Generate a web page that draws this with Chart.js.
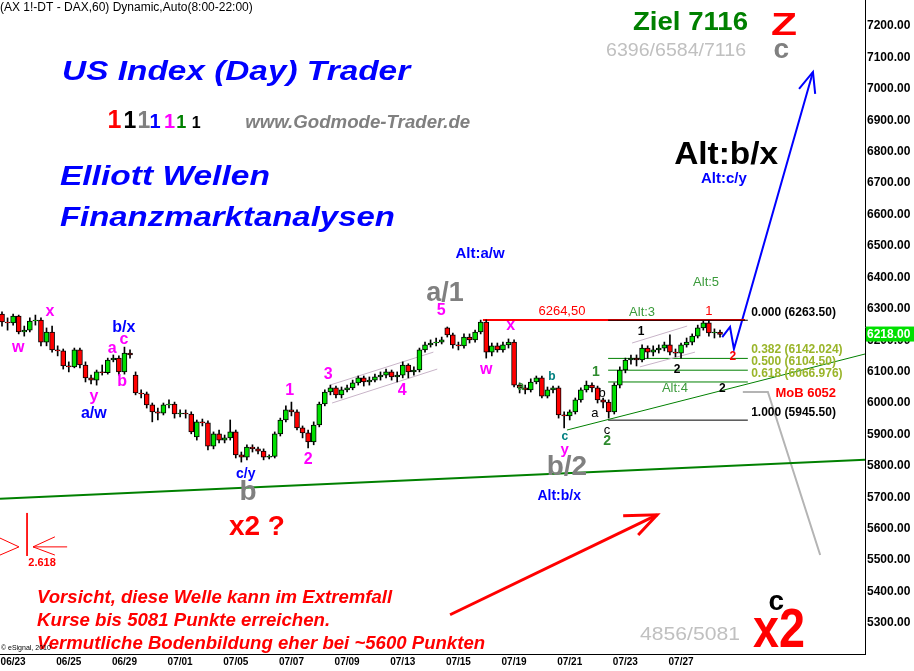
<!DOCTYPE html>
<html>
<head>
<meta charset="utf-8">
<script src="https://cdn.jsdelivr.net/npm/chart.js@4"></script>
<style>
  html, body { margin: 0; padding: 0; background: #fff; }
  canvas { display: block; }
</style>
</head>
<body>
<canvas id="dax" width="914" height="671"></canvas>
<script>
  // DAX 60 min, gelesen aus dem Chart (Kerzen zusammengefasst, ca. 5 pro Tag)
  var opens = [
    6283, 6258, 6255, 6277, 6226, 6232, 6261, 6264, 6194, 6226,
    6169, 6166, 6118, 6115, 6169, 6121, 6080, 6073, 6099, 6097,
    6137, 6143, 6099, 6159, 6089, 6032, 6029, 5994, 5972, 5968,
    5994, 5997, 5965, 5968, 5965, 5892, 5940, 5937, 5863, 5902,
    5882, 5889, 5908, 5835, 5828, 5860, 5854, 5847, 5828, 5830,
    5902, 5946, 5978, 5972, 5921, 5905, 5876, 5930, 5997, 6035,
    6048, 6026, 6042, 6048, 6064, 6080, 6067, 6073, 6083, 6089,
    6099, 6083, 6089, 6121, 6099, 6105, 6169, 6185, 6191, 6194,
    6239, 6217, 6185, 6182, 6210, 6201, 6226, 6258, 6162, 6182,
    6169, 6185, 6194, 6057, 6048, 6042, 6067, 6080, 6022, 6042,
    6048, 5962, 5959, 5972, 6010, 6042, 6057, 6048, 6010, 6003,
    5972, 6057, 6105, 6137, 6143, 6137, 6175, 6162, 6169, 6175,
    6185, 6162, 6159, 6185, 6194, 6213, 6239, 6255, 6223, 6226
  ];
  var highs = [
    6290, 6271, 6283, 6280, 6245, 6271, 6280, 6271, 6239, 6245,
    6182, 6172, 6131, 6175, 6175, 6131, 6089, 6105, 6121, 6143,
    6153, 6150, 6178, 6169, 6099, 6042, 6035, 6000, 5984, 6000,
    6010, 6003, 5978, 5978, 5972, 5946, 5949, 5943, 5908, 5914,
    5898, 5946, 5914, 5844, 5867, 5867, 5860, 5854, 5835, 5908,
    5952, 5991, 6003, 5978, 5927, 5914, 5940, 6003, 6042, 6057,
    6054, 6051, 6057, 6073, 6086, 6086, 6083, 6092, 6099, 6108,
    6105, 6099, 6131, 6125, 6115, 6175, 6194, 6201, 6207, 6210,
    6242, 6223, 6194, 6220, 6220, 6232, 6264, 6264.5, 6191, 6191,
    6194, 6204, 6201, 6064, 6057, 6077, 6086, 6086, 6051, 6054,
    6054, 5972, 5978, 6016, 6048, 6070, 6064, 6054, 6016, 6010,
    6064, 6115, 6143, 6153, 6153, 6185, 6182, 6182, 6185, 6194,
    6217, 6172, 6191, 6207, 6220, 6248, 6261, 6263.5, 6236, 6232
  ];
  var lows = [
    6245, 6232, 6248, 6220, 6213, 6226, 6248, 6182, 6182, 6162,
    6150, 6108, 6099, 6112, 6112, 6067, 6061, 6057, 6089, 6092,
    6131, 6089, 6092, 6143, 6026, 6016, 5984, 5940, 5946, 5962,
    5984, 5952, 5956, 5952, 5902, 5882, 5927, 5851, 5854, 5873,
    5873, 5882, 5825, 5812, 5819, 5844, 5838, 5819, 5822, 5825,
    5895, 5940, 5959, 5914, 5889, 5857, 5867, 5924, 5991, 6026,
    6016, 6016, 6035, 6042, 6057, 6054, 6057, 6067, 6073, 6080,
    6073, 6067, 6080, 6080, 6089, 6099, 6162, 6178, 6182, 6188,
    6210, 6175, 6169, 6175, 6191, 6194, 6220, 6143, 6150, 6162,
    6162, 6175, 6051, 6032, 6029, 6035, 6061, 6016, 6016, 6032,
    5952, 5921, 5946, 5965, 6003, 6035, 6035, 6000, 5984, 5952,
    5965, 6048, 6096, 6124, 6118, 6131, 6143, 6150, 6159, 6166,
    6153, 6147, 6143, 6178, 6185, 6207, 6232, 6213, 6207, 6210
  ];
  var closes = [
    6258, 6255, 6277, 6226, 6232, 6261, 6264, 6194, 6226, 6169,
    6166, 6118, 6115, 6169, 6121, 6080, 6073, 6099, 6097, 6137,
    6143, 6099, 6159, 6153, 6032, 6029, 5994, 5972, 5968, 5994,
    5997, 5965, 5968, 5965, 5908, 5940, 5937, 5863, 5902, 5882,
    5889, 5908, 5835, 5828, 5860, 5854, 5847, 5828, 5830, 5902,
    5946, 5978, 5972, 5921, 5905, 5876, 5930, 5997, 6035, 6048,
    6026, 6042, 6048, 6064, 6080, 6067, 6073, 6083, 6089, 6099,
    6083, 6089, 6121, 6099, 6105, 6169, 6185, 6191, 6194, 6201,
    6217, 6185, 6182, 6210, 6201, 6226, 6258, 6162, 6182, 6169,
    6185, 6194, 6057, 6048, 6042, 6067, 6080, 6022, 6042, 6048,
    5962, 5959, 5972, 6010, 6042, 6057, 6048, 6010, 6003, 5972,
    6057, 6105, 6137, 6143, 6137, 6175, 6162, 6169, 6175, 6185,
    6162, 6159, 6185, 6194, 6213, 6239, 6255, 6223, 6226, 6218
  ];

  // Datumsachse: Kerzen-Index, an dem der Handelstag beginnt
  var dayBars   = [2, 12, 22, 32, 42, 52, 62, 72, 82, 92, 102, 112, 122];
  var dayLabels = ["06/23", "06/25", "06/29", "07/01", "07/05", "07/07", "07/09",
                   "07/13", "07/15", "07/19", "07/21", "07/23", "07/27"];
  var priceTicks = [5300, 5400, 5500, 5600, 5700, 5800, 5900, 6000, 6100, 6200,
                    6300, 6400, 6500, 6600, 6700, 6800, 6900, 7000, 7100, 7200];

  // Fibonacci-Retracement 6263.50 -> 5945.50
  var fibLevels = [6263.5, 6142.024, 6104.5, 6066.976, 5945.5];

  var FONT = "'Liberation Sans', Arial, sans-serif";
  var UP = "#00e000", DOWN = "#ff0000";
  var MAG = "#ff00ff", BLUE = "#0000ff", GRAY = "#808080", LIGHT = "#c0c0c0";
  var ALTGREEN = "#3a9a3a", FIBTXT = "#9ab52a";

  /* ── Hilfslinien (Kerzen-Index, Kurs) ── */
  var guides = [
    { pts: [[-0.36, 5695], [155.05, 5819]], color: "#008000", w: 2 },
    { pts: [[101.5, 5914], [155.05, 6156]], color: "#008000", w: 1 },
    { pts: [[58.9, 6057], [77.5, 6162]], color: "#c8b4c8", w: 1 },
    { pts: [[59.3, 6000], [78.2, 6108]], color: "#c8b4c8", w: 1 },
    { pts: [[113.2, 6191], [123.1, 6245]], color: "#c8b4c8", w: 1 },
    { pts: [[114.6, 6115], [124.5, 6162]], color: "#c8b4c8", w: 1 },
    { pts: [[108.9, fibLevels[0]], [134.0, fibLevels[0]]], color: "#000000", w: 1 },
    { pts: [[108.9, fibLevels[1]], [134.0, fibLevels[1]]], color: "#008000", w: 1 },
    { pts: [[108.9, fibLevels[2]], [134.0, fibLevels[2]]], color: "#008000", w: 1 },
    { pts: [[108.9, fibLevels[3]], [134.0, fibLevels[3]]], color: "#008000", w: 1 },
    { pts: [[108.9, fibLevels[4]], [134.0, fibLevels[4]]], color: "#000000", w: 1 },
    { pts: [[86.4, 6264.5], [133.5, 6264.5]], color: "#ff0000", w: 2 },
    { pts: [[129.4, 6210], [130.8, 6242], [131.5, 6172], [145.7, 7054]], color: BLUE, w: 2 },
    { pts: [[143.2, 7000], [145.7, 7054], [146.1, 6984]], color: BLUE, w: 2 },
    { pts: [[133.1, 6035], [137.6, 6035], [147.0, 5516]], color: "#b4b4b4", w: 2 },
    { pts: [[80.5, 5326], [117.7, 5644]], color: "#ff0000", w: 3 },
    { pts: [[111.6, 5641], [117.7, 5644], [114.3, 5580]], color: "#ff0000", w: 3 },
    { pts: [[4.5, 5650], [4.5, 5513]], color: "#ff0000", w: 1 },
    { pts: [[-0.36, 5570], [3.05, 5542], [-0.36, 5516]], color: "#ff0000", w: 1 },
    { pts: [[9.5, 5574], [5.57, 5542], [9.5, 5516]], color: "#ff0000", w: 1 },
    { pts: [[5.57, 5542], [11.7, 5542]], color: "#ff0000", w: 1 }
  ];

  /* ── Beschriftungen: [Text, Kerzen-Index, Kurs, Farbe, Font, Ausrichtung, Breite] ── */
  var notes = [
    ["(AX 1!-DT - DAX,60) Dynamic,Auto(8:00-22:00)", -0.36, 7260, "#000", "12px", "left"],
    ["US Index (Day) Trader", 10.8, 7054, BLUE, "italic bold 28px", "left", 348],
    ["Elliott Wellen", 10.4, 6719, BLUE, "italic bold 28px", "left", 210],
    ["Finanzmarktanalysen", 10.4, 6589, BLUE, "italic bold 28px", "left", 335],
    ["www.Godmode-Trader.de", 43.7, 6891, GRAY, "italic bold 18px", "left", 225],
    ["1", 20.2, 6875, "#ff0000", "bold 25px", "center", null, "alphabetic"],
    ["1", 23.0, 6875, "#000000", "bold 23px", "center", null, "alphabetic"],
    ["1", 25.5, 6875, GRAY, "bold 23px", "center", null, "alphabetic"],
    ["1", 27.5, 6875, BLUE, "bold 20px", "center", null, "alphabetic"],
    ["1", 30.1, 6875, MAG, "bold 20px", "center", null, "alphabetic"],
    ["1", 32.2, 6875, "#008000", "bold 18px", "center", null, "alphabetic"],
    ["1", 34.9, 6875, "#000000", "bold 16px", "center", null, "alphabetic"],
    ["Ziel 7116", 123.7, 7210, "#008000", "bold 26px", "center", 115],
    ["Z", 140.5, 7200, "#ff0000", "bold 32px", "center", 26],
    ["6396/6584/7116", 121.1, 7120, LIGHT, "19px", "center", 140],
    ["c", 140.0, 7124, GRAY, "bold 28px", "center"],
    ["Alt:b/x", 130.1, 6790, "#000000", "bold 32px", "center", 104],
    ["Alt:c/y", 129.7, 6713, BLUE, "bold 15px", "center"],
    ["Alt:a/w", 85.9, 6474, BLUE, "bold 15px", "center"],
    ["Alt:5", 126.5, 6385, ALTGREEN, "13px", "center"],
    ["a/1", 79.6, 6350, GRAY, "bold 27px", "center"],
    ["5", 78.9, 6293, MAG, "bold 16px", "center"],
    ["6264,50", 100.6, 6293, "#ff0000", "13px", "center"],
    ["Alt:3", 115.0, 6287, ALTGREEN, "13px", "center"],
    ["1", 127.0, 6293, "#ff0000", "13px", "center"],
    ["0.000 (6263.50)", 134.6, 6287, "#000000", "bold 12px", "left"],
    ["0.382 (6142.024)", 134.6, 6169, FIBTXT, "bold 12px", "left"],
    ["0.500 (6104.50)", 134.6, 6131, FIBTXT, "bold 12px", "left"],
    ["0.618 (6066.976)", 134.6, 6092, FIBTXT, "bold 12px", "left"],
    ["1.000 (5945.50)", 134.6, 5968, "#000000", "bold 12px", "left"],
    ["MoB 6052", 144.4, 6029, "#ff0000", "bold 13px", "center"],
    ["w", 2.9, 6175, MAG, "bold 16px", "center"],
    ["x", 8.6, 6290, MAG, "bold 16px", "center"],
    ["b/x", 21.9, 6239, BLUE, "bold 16px", "center"],
    ["c", 21.9, 6201, MAG, "bold 16px", "center"],
    ["a", 19.8, 6172, MAG, "bold 16px", "center"],
    ["b", 21.6, 6067, MAG, "bold 16px", "center"],
    ["y", 16.5, 6022, MAG, "bold 16px", "center"],
    ["a/w", 16.5, 5965, BLUE, "bold 16px", "center"],
    ["1", 51.7, 6041, MAG, "bold 16px", "center"],
    ["2", 55.0, 5819, MAG, "bold 16px", "center"],
    ["3", 58.6, 6092, MAG, "bold 16px", "center"],
    ["4", 71.9, 6041, MAG, "bold 16px", "center"],
    ["c/y", 43.8, 5774, BLUE, "bold 14px", "center"],
    ["b", 44.2, 5717, GRAY, "bold 28px", "center"],
    ["x2 ?", 45.8, 5605, "#ff0000", "bold 28px", "center"],
    ["x", 91.4, 6245, MAG, "bold 16px", "center"],
    ["w", 87.0, 6105, MAG, "bold 16px", "center"],
    ["a", 93.2, 6051, "#2e8b2e", "bold 12px", "center"],
    ["b", 98.8, 6083, "#008080", "bold 12px", "center"],
    ["c", 101.1, 5892, "#008080", "bold 12px", "center"],
    ["y", 101.1, 5851, MAG, "bold 15px", "center"],
    ["b/2", 101.5, 5797, GRAY, "bold 28px", "center"],
    ["Alt:b/x", 100.1, 5704, BLUE, "bold 14px", "center"],
    ["1", 106.7, 6099, "#2e8b2e", "bold 14px", "center"],
    ["b", 107.8, 6029, "#000000", "13px", "center"],
    ["a", 106.5, 5968, "#000000", "13px", "center"],
    ["c", 108.7, 5914, "#000000", "13px", "center"],
    ["2", 108.7, 5879, "#2e8b2e", "bold 14px", "center"],
    ["1", 114.8, 6226, "#000000", "bold 12px", "center"],
    ["2", 121.3, 6105, "#000000", "bold 12px", "center"],
    ["Alt:4", 120.9, 6048, ALTGREEN, "13px", "center"],
    ["2", 129.4, 6045, "#000000", "bold 12px", "center"],
    ["2", 131.3, 6146, "#ff0000", "bold 12px", "center"],
    ["2.618", 7.2, 5491, "#ff0000", "bold 11px", "center"],
    ["Vorsicht, diese Welle kann im Extremfall", 6.3, 5380, "#ff0000", "italic bold 18px", "left", 355],
    ["Kurse bis 5081 Punkte erreichen.", 6.3, 5307, "#ff0000", "italic bold 18px", "left", 293],
    ["Vermutliche Bodenbildung eher bei ~5600 Punkten", 6.3, 5233, "#ff0000", "italic bold 18px", "left", 448],
    ["\u00a9 eSignal, 2010", -0.2, 5220, "#000000", "7px", "left"],
    ["4856/5081", 123.6, 5262, LIGHT, "19px", "center", 100],
    ["c", 139.1, 5367, "#000000", "bold 28px", "center"],
    ["x2", 139.6, 5271, "#ff0000", "bold 56px", "center", 52]
  ];

  function $(id) { return document.getElementById(id); }

  var candleColors = closes.map(function (c, i) { return c >= opens[i] ? UP : DOWN; });

  var datasets = [];
  guides.forEach(function (g) {
    datasets.push({
      type: "line",
      data: g.pts.map(function (p) { return { x: p[0], y: p[1] }; }),
      borderColor: g.color,
      borderWidth: g.w,
      pointRadius: 0,
      fill: false,
      tension: 0,
      clip: false,
      order: 4
    });
  });
  datasets.push({
    type: "bar",
    label: "Docht",
    data: lows.map(function (l, i) { return { x: i, y: [l, highs[i]] }; }),
    backgroundColor: "#000000",
    barThickness: 1,
    grouped: false,
    order: 3
  });
  datasets.push({
    type: "bar",
    label: "Körper",
    data: opens.map(function (o, i) { return { x: i, y: [o, closes[i]] }; }),
    backgroundColor: candleColors,
    borderColor: "#000000",
    borderWidth: 1,
    borderSkipped: false,
    barThickness: 5,
    grouped: false,
    order: 2
  });

  /* ── Texte + Kursmarke ── */
  var notesPlugin = {
    id: "notes",
    afterDraw: function (chart) {
      var ctx = chart.ctx, xs = chart.scales.x, ys = chart.scales.y;
      ctx.save();
      notes.forEach(function (n) {
        var px = xs.getPixelForValue(n[1]);
        var py = ys.getPixelForValue(n[2]);
        ctx.font = n[4] + " " + FONT;
        ctx.fillStyle = n[3];
        ctx.textAlign = n[5] || "center";
        ctx.textBaseline = n[7] || "middle";
        if (n[6]) {
          var s = n[6] / ctx.measureText(n[0]).width;
          ctx.save();
          ctx.translate(px, py);
          ctx.scale(s, 1);
          ctx.fillText(n[0], 0, 0);
          ctx.restore();
        } else {
          ctx.fillText(n[0], px, py);
        }
      });
      // letzter Kurs am rechten Rand
      var last = closes[closes.length - 1];
      var ly = ys.getPixelForValue(last);
      ctx.fillStyle = "#00e000";
      ctx.fillRect(chart.chartArea.right + 1, ly - 8, 48, 15);
      ctx.fillStyle = "#ffffff";
      ctx.font = "bold 12px " + FONT;
      ctx.textAlign = "left";
      ctx.textBaseline = "middle";
      ctx.fillText(last.toFixed(2), chart.chartArea.right + 2, ly);
      ctx.restore();
    }
  };

  new Chart($("dax").getContext("2d"), {
    type: "bar",
    data: { datasets: datasets },
    options: {
      responsive: false,
      animation: false,
      devicePixelRatio: 1,
      layout: { padding: 0, autoPadding: false },
      events: [],
      plugins: { legend: { display: false }, tooltip: { enabled: false } },
      scales: {
        x: {
          type: "linear",
          position: "bottom",
          min: -0.36,
          max: 155.05,
          offset: false,
          grid: { display: true, color: "rgba(0,0,0,0)", drawTicks: false },
          border: { display: true, color: "#000000", width: 1 },
          afterBuildTicks: function (scale) {
            scale.ticks = dayBars.map(function (b) { return { value: b }; });
          },
          afterFit: function (scale) {
            scale.height = 17;
            scale.paddingLeft = 0;
            scale.paddingRight = 0;
          },
          ticks: {
            autoSkip: false,
            maxRotation: 0,
            padding: 2,
            color: "#000000",
            font: { family: FONT, size: 10, weight: "bold" },
            callback: function (v, i) { return dayLabels[i]; }
          }
        },
        y: {
          type: "linear",
          position: "right",
          min: 5201,
          max: 7283,
          grid: { display: true, color: "rgba(0,0,0,0)", drawTicks: false },
          border: { display: true, color: "#000000", width: 1 },
          afterBuildTicks: function (scale) {
            scale.ticks = priceTicks.map(function (v) { return { value: v }; });
          },
          afterFit: function (scale) {
            scale.width = 49;
            scale.paddingTop = 0;
            scale.paddingBottom = 0;
          },
          ticks: {
            autoSkip: false,
            padding: 2,
            color: "#000000",
            font: { family: FONT, size: 12, weight: "bold" },
            callback: function (v) { return Number(v).toFixed(2); }
          }
        }
      }
    },
    plugins: [notesPlugin]
  });
</script>
</body>
</html>
